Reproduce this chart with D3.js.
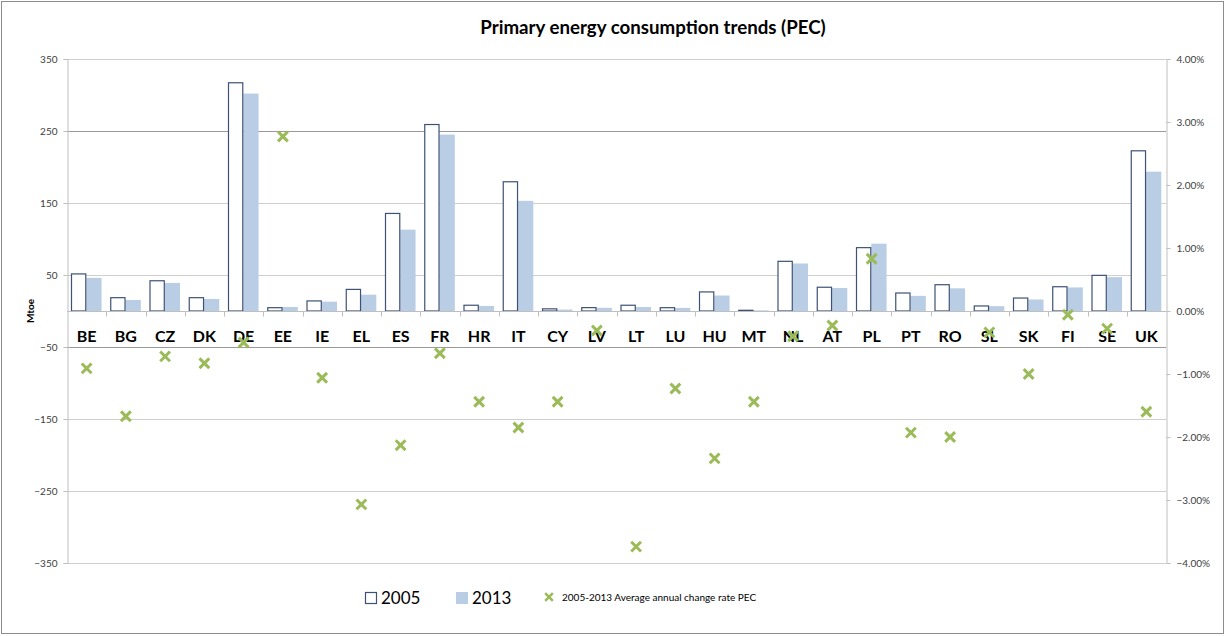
<!DOCTYPE html>
<html lang="en">
<head>
  <meta charset="UTF-8">
  <title>Primary energy consumption trends (PEC)</title>
  <script src="https://d3js.org/d3.v7.min.js"></script>
  <style>
    body { margin: 0; background: #fff; font-family: Lato, "Open Sans", sans-serif; }
  </style>
</head>
<body>
  <svg id="chart" width="1226" height="636"></svg>
  <script>
    // Data
    const countries = ['BE','BG','CZ','DK','DE','EE','IE','EL','ES','FR','HR','IT','CY','LV','LT','LU','HU','MT','NL','AT','PL','PT','RO','SL','SK','FI','SE','UK'];
    const pec2005 = [51.5, 18.5, 42, 18.5, 317, 4.6, 14, 30, 135.5, 259, 8, 179.5, 3, 4.7, 8, 4.6, 26.5, 1, 69, 33, 88, 25, 36.5, 7, 18, 33.7, 49.5, 222.5];
    const pec2013 = [46, 15.3, 39, 16.7, 302, 5.5, 13, 22.7, 113, 245, 7, 153, 2, 4.4, 5.5, 4.3, 21.5, 0.9, 66, 32, 93.5, 21, 31.5, 6.7, 16, 32.7, 47, 193.5];
    const changeRate = [-0.91, -1.67, -0.72, -0.83, -0.5, 2.77, -1.06, -3.07, -2.13, -0.67, -1.44, -1.85, -1.44, -0.31, -3.74, -1.23, -2.34, -1.44, -0.4, -0.23, 0.83, -1.93, -2.0, -0.34, -1.0, -0.06, -0.28, -1.6];
    const leftTicks = [350, 250, 150, 50, -50, -150, -250, -350];
    const rightTicks = [4, 3, 2, 1, 0, -1, -2, -3, -4];
    const years = ['2005', '2013'];

    const svg = d3.select('#chart');
    const W = 1226, H = 636;
    const plot = { left: 67, right: 1166, top: 59, bottom: 563 };

    // chart frame
    svg.append('rect').attr('x', 1.5).attr('y', 1.5).attr('width', W - 4).attr('height', H - 4)
      .attr('fill', '#fff').attr('stroke', '#8c8c8c').attr('stroke-width', 1);

    // title
    svg.append('text').attr('x', 653).attr('y', 34).attr('text-anchor', 'middle')
      .style('font-family', 'Lato, sans-serif').style('font-weight', 'bold').style('font-size', '18.7px')
      .attr('fill', '#000').text('Primary energy consumption trends (PEC)');

    const y = d3.scaleLinear().domain([-350, 350]).range([plot.bottom, plot.top]);
    const y2 = d3.scaleLinear().domain([-4, 4]).range([plot.bottom, plot.top]);
    const x0 = d3.scaleBand().domain(countries).range([plot.left, plot.right]);
    const x1 = d3.scaleBand().domain(years).range([4, x0.bandwidth() - 4.7]);

    // gridlines
    svg.append('g').selectAll('line').data(leftTicks).enter().append('line')
      .attr('x1', plot.left).attr('x2', plot.right)
      .attr('y1', d => Math.round(y(d)) + 0.5).attr('y2', d => Math.round(y(d)) + 0.5)
      .attr('stroke', d => (d === 250 || d === -50) ? '#9a9a9a' : '#cfcfcf')
      .attr('stroke-width', 1);

    // left axis
    const leftAxis = svg.append('g').attr('transform', `translate(${plot.left + 0.5},0)`)
      .call(d3.axisLeft(y).tickValues(leftTicks).tickSize(4).tickPadding(6).tickFormat(d3.format('d')));
    leftAxis.select('.domain').attr('stroke', '#bfbfbf');
    leftAxis.selectAll('.tick line').attr('stroke', '#bfbfbf');
    leftAxis.selectAll('text').attr('fill', '#404040').style('font-size', '10px').style('font-family', 'Lato, sans-serif');

    // right axis
    const rightAxis = svg.append('g').attr('transform', `translate(${plot.right + 0.5},0)`)
      .call(d3.axisRight(y2).tickValues(rightTicks).tickSize(4).tickPadding(6).tickFormat(d => d3.format('.2f')(d) + '%'));
    rightAxis.select('.domain').attr('stroke', '#bfbfbf');
    rightAxis.selectAll('.tick line').attr('stroke', '#bfbfbf');
    rightAxis.selectAll('text').attr('fill', '#404040').style('font-size', '10px').style('font-family', 'Lato, sans-serif');

    // Mtoe label
    svg.append('text').attr('transform', `translate(34,${y(0)}) rotate(-90)`).attr('text-anchor', 'middle')
      .style('font-weight', 'bold').style('font-size', '10px').attr('fill', '#000').text('Mtoe');

    // bars
    const groups = svg.append('g').selectAll('g').data(countries).enter().append('g')
      .attr('transform', d => `translate(${x0(d)},0)`);
    groups.append('rect')
      .attr('x', (d, i) => x1('2013'))
      .attr('width', x1.bandwidth())
      .attr('y', (d, i) => y(pec2013[i]))
      .attr('height', (d, i) => y(0) - y(pec2013[i]))
      .attr('fill', '#b9cde5');
    groups.append('rect')
      .attr('x', (d, i) => x1('2005') + 0.5)
      .attr('width', x1.bandwidth() - 1)
      .attr('y', (d, i) => y(pec2005[i]))
      .attr('height', (d, i) => y(0) - y(pec2005[i]))
      .attr('fill', '#fff').attr('stroke', '#3e5276').attr('stroke-width', 1.2);

    // category axis at zero
    const y0 = Math.round(y(0)) + 0.5;
    svg.append('line').attr('x1', plot.left).attr('x2', plot.right).attr('y1', y0).attr('y2', y0)
      .attr('stroke', '#bfbfbf');
    svg.append('g').selectAll('line').data(countries.slice(1)).enter().append('line')
      .attr('x1', d => Math.round(x0(d)) + 0.5).attr('x2', d => Math.round(x0(d)) + 0.5)
      .attr('y1', y0).attr('y2', y0 + 5).attr('stroke', '#bfbfbf');
    svg.append('g').selectAll('text').data(countries).enter().append('text')
      .attr('x', d => x0(d) + x0.bandwidth() / 2).attr('y', y0 + 30)
      .attr('text-anchor', 'middle').style('font-weight', 'bold').style('font-size', '16px')
      .attr('fill', '#000').text(d => d);

    // change-rate markers
    const cross = d3.symbol().type(d3.symbolX).size(64);
    svg.append('g').selectAll('path').data(countries).enter().append('path')
      .attr('transform', (d, i) => `translate(${x0(d) + x0.bandwidth() / 2},${y2(changeRate[i])})`)
      .attr('d', cross).attr('fill', 'none').attr('stroke', '#9bbb59').attr('stroke-width', 3);

    // legend
    const lg = svg.append('g');
    lg.append('rect').attr('x', 365.5).attr('y', 592.5).attr('width', 11).attr('height', 11)
      .attr('fill', '#fff').attr('stroke', '#3e5276').attr('stroke-width', 1.2);
    lg.append('text').attr('x', 381).attr('y', 604).style('font-size', '17px').attr('fill', '#000').text(years[0]);
    lg.append('rect').attr('x', 456).attr('y', 592).attr('width', 12).attr('height', 12).attr('fill', '#b9cde5');
    lg.append('text').attr('x', 472).attr('y', 604).style('font-size', '17px').attr('fill', '#000').text(years[1]);
    lg.append('path').attr('transform', 'translate(549,597)').attr('d', d3.symbol().type(d3.symbolX).size(40))
      .attr('fill', 'none').attr('stroke', '#9bbb59').attr('stroke-width', 2.5);
    lg.append('text').attr('x', 562).attr('y', 601).style('font-size', '10px').attr('fill', '#000')
      .text('2005-2013 Average annual change rate PEC');
  </script>
</body>
</html>
